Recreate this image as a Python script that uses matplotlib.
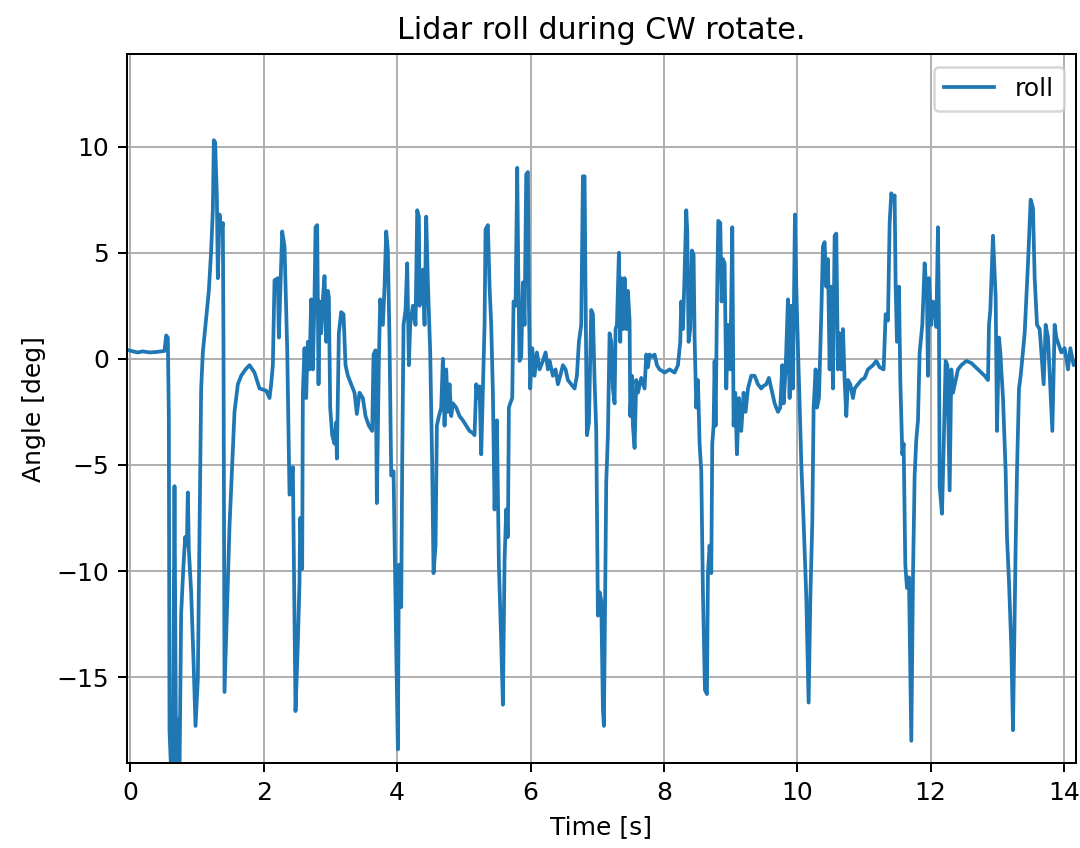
import matplotlib
matplotlib.use("Agg")
import matplotlib.pyplot as plt

# (time [s], roll [deg]), one list per stretch of the run
seg_start = [(-0.057, 0.43), (0.035, 0.35), (0.11, 0.3), (0.185, 0.35), (0.285, 0.3),
             (0.385, 0.32), (0.51, 0.37), (0.535, 1.1), (0.56, 1.0), (0.575, -2.7),
             (0.585, -17.5), (0.61, -19.5), (0.635, -19.5), (0.66, -6.0), (0.685, -19.5),
             (0.71, -17.0), (0.735, -19.5), (0.76, -12.0), (0.795, -9.7), (0.82, -8.4),
             (0.845, -8.8), (0.86, -6.3), (0.875, -9.0), (0.91, -11.0), (0.945, -14.2),
             (0.975, -17.3), (1.01, -15.1), (1.035, -8.2), (1.06, -1.4), (1.085, 0.3),
             (1.125, 1.6), (1.145, 2.2), (1.175, 3.2), (1.21, 5.1), (1.235, 7.0),
             (1.25, 10.3), (1.27, 10.2), (1.295, 7.7), (1.31, 3.8), (1.335, 6.8),
             (1.36, 6.0), (1.385, 6.4), (1.395, 0.5), (1.41, -15.7), (1.445, -12.0),
             (1.485, -7.9), (1.525, -5.0), (1.56, -2.5), (1.61, -1.2), (1.66, -0.8),
             (1.725, -0.5), (1.785, -0.3), (1.86, -0.65), (1.935, -1.4), (2.035, -1.5),
             (2.085, -1.85), (2.11, -1.2), (2.135, -0.3), (2.16, 3.7), (2.21, 3.8),
             (2.225, 1.0), (2.275, 6.0), (2.31, 5.3), (2.35, 0.5), (2.385, -6.4)]

seg_2_5 = [(2.435, -5.1), (2.475, -16.6), (2.51, -13.4), (2.535, -10.5), (2.545, -7.5),
           (2.575, -9.9), (2.585, -1.6), (2.61, 0.5), (2.635, -1.85), (2.65, -0.1),
           (2.66, 0.8), (2.685, -0.5), (2.71, 2.8), (2.735, -0.5), (2.76, 2.9),
           (2.775, 6.2), (2.8, 6.3), (2.82, -1.2), (2.835, 2.7), (2.86, 1.2),
           (2.885, 2.8), (2.91, 3.9), (2.935, 0.8), (2.96, 3.2), (2.975, 2.9),
           (2.995, -2.3), (3.025, -3.6), (3.06, -4.0), (3.085, -3.0), (3.095, -4.7),
           (3.125, 1.2), (3.16, 2.2), (3.195, 2.1), (3.225, -0.3), (3.26, -0.8),
           (3.31, -1.2), (3.36, -1.6), (3.395, -2.6), (3.435, -1.6), (3.485, -1.85),
           (3.525, -2.7), (3.575, -3.15), (3.625, -3.4), (3.645, 0.2), (3.675, 0.4),
           (3.695, -6.8), (3.725, -0.1), (3.745, 2.8), (3.785, 1.6), (3.81, 3.4),
           (3.835, 6.0), (3.86, 5.1), (3.885, 0.8), (3.91, -5.5), (3.945, -5.3),
           (3.985, -13.6), (4.01, -18.4), (4.025, -9.7), (4.06, -11.7), (4.075, -4.9),
           (4.095, 1.6), (4.125, 2.3), (4.15, 4.5), (4.175, -0.3), (4.195, 1.6),
           (4.235, 2.5), (4.275, 1.6), (4.3, 7.0), (4.325, 6.7), (4.335, 2.5),
           (4.36, 3.4), (4.385, 4.2), (4.41, 1.6), (4.435, 6.7), (4.46, 3.6),
           (4.495, 0.3), (4.525, -5.1), (4.545, -10.1), (4.575, -8.8), (4.595, -3.15),
           (4.625, -2.7), (4.66, -2.3), (4.685, 0.0)]

seg_5_7 = [(4.71, -3.15), (4.735, -0.5), (4.76, -2.5), (4.785, -1.2), (4.81, -2.7),
           (4.835, -2.1), (4.885, -2.3), (4.935, -2.7), (4.985, -2.9), (5.035, -3.15),
           (5.085, -3.4), (5.135, -3.5), (5.16, -3.6), (5.185, -1.2), (5.21, -1.85),
           (5.235, -1.3), (5.26, -4.5), (5.285, -1.4), (5.31, 1.6), (5.325, 6.1),
           (5.36, 6.3), (5.385, 3.4), (5.41, 1.6), (5.435, -1.6), (5.46, -7.1),
           (5.495, -2.9), (5.525, -9.7), (5.56, -13.4), (5.585, -16.3), (5.61, -9.5),
           (5.635, -7.1), (5.66, -8.4), (5.675, -2.3), (5.695, -2.1), (5.725, -1.85),
           (5.745, 2.7), (5.775, 2.5), (5.8, 9.0), (5.815, 4.2), (5.835, -0.1),
           (5.86, 0.1), (5.885, 3.6), (5.91, 1.6), (5.935, 8.7), (5.96, 8.8),
           (5.975, 2.7), (5.995, -1.4), (6.025, 0.5), (6.06, -0.8), (6.095, 0.3),
           (6.135, -0.5), (6.185, -0.1), (6.225, 0.3), (6.26, -0.5), (6.285, -0.1),
           (6.335, -0.8), (6.375, -0.5), (6.41, -1.2), (6.445, -0.8), (6.485, -0.3),
           (6.525, -0.5), (6.56, -1.0), (6.61, -1.2), (6.66, -1.4), (6.695, -0.8),
           (6.725, 0.8), (6.76, 1.6), (6.785, 8.6), (6.81, 8.6), (6.825, 2.9),
           (6.845, -3.6), (6.875, -3.0), (6.91, 2.3), (6.935, 2.1), (6.96, -1.0),
           (6.985, -3.4), (7.01, -12.1), (7.035, -11.0), (7.06, -11.4), (7.085, -16.5),
           (7.1, -17.3)]

seg_7_9 = [(7.12, -10.5), (7.135, -5.8), (7.16, -3.6), (7.185, 1.2), (7.21, 0.8),
           (7.235, -1.4), (7.26, -2.1), (7.275, 1.4), (7.295, 1.6), (7.325, 5.0),
           (7.345, 0.8), (7.36, 3.8), (7.385, 1.4), (7.41, 3.8), (7.435, 1.4),
           (7.46, 3.2), (7.485, 1.8), (7.495, -2.7), (7.52, -0.8), (7.535, -3.15),
           (7.56, -4.2), (7.585, -1.0), (7.61, -1.6), (7.66, -0.9), (7.71, -1.4),
           (7.735, 0.2), (7.76, -0.4), (7.785, 0.2), (7.825, 0.1), (7.86, 0.2),
           (7.895, -0.3), (7.935, -0.5), (8.01, -0.65), (8.085, -0.5), (8.16, -0.65),
           (8.21, -0.3), (8.245, 0.8), (8.26, 2.7), (8.285, 1.4), (8.31, 4.0),
           (8.335, 7.0), (8.35, 6.0), (8.37, 0.8), (8.395, 1.4), (8.42, 5.1),
           (8.445, 4.9), (8.46, 1.0), (8.485, -2.3), (8.51, -1.0), (8.535, -4.0),
           (8.56, -5.3), (8.585, -11.0), (8.615, -15.6), (8.645, -15.8), (8.66, -10.1),
           (8.685, -8.8), (8.71, -10.1), (8.725, -4.0), (8.745, -3.15), (8.76, -0.1),
           (8.775, -3.15), (8.795, 2.5), (8.815, 6.5), (8.845, 6.4), (8.865, 2.7),
           (8.885, 4.7), (8.91, 4.5), (8.935, -1.4), (8.96, 1.6), (8.995, -0.5),
           (9.025, 6.2), (9.045, -3.15), (9.07, -1.6), (9.095, -4.5), (9.125, -1.85),
           (9.16, -3.4), (9.195, -1.6), (9.225, -2.5), (9.26, -1.4), (9.31, -0.8),
           (9.36, -0.8), (9.41, -1.2), (9.46, -1.4)]

seg_9_12 = [(9.485, -1.3), (9.535, -1.2), (9.575, -0.9), (9.61, -1.4), (9.66, -2.1),
            (9.71, -2.5), (9.745, -2.3), (9.775, -0.3), (9.795, -2.1), (9.825, -0.5),
            (9.86, 2.8), (9.885, -1.85), (9.91, 2.5), (9.935, -1.4), (9.965, 6.8),
            (9.985, 3.4), (10.01, 0.5), (10.035, -2.1), (10.06, -4.9), (10.095, -7.7),
            (10.135, -11.2), (10.17, -16.2), (10.195, -11.4), (10.225, -7.7), (10.245, -2.3),
            (10.275, -0.5), (10.295, -2.3), (10.325, -1.85), (10.36, 2.1), (10.385, 5.3),
            (10.41, 5.5), (10.435, 3.4), (10.46, 4.7), (10.485, -0.5), (10.51, 3.4),
            (10.535, -1.4), (10.56, 5.8), (10.585, 5.9), (10.61, -0.5), (10.635, 1.2),
            (10.66, -0.5), (10.685, 1.4), (10.71, -1.0), (10.735, -2.7), (10.76, -1.0),
            (10.795, -1.2), (10.835, -1.85), (10.86, -1.4), (10.91, -1.2), (10.96, -1.0),
            (11.01, -0.9), (11.06, -0.5), (11.135, -0.3), (11.185, -0.1), (11.235, -0.4),
            (11.295, -0.5), (11.325, 2.1), (11.36, 1.8), (11.385, 6.4), (11.41, 7.8),
            (11.435, 7.5), (11.46, 7.7), (11.475, 3.4), (11.495, 0.8), (11.525, 3.4),
            (11.545, -1.0), (11.575, -4.5), (11.595, -4.0), (11.62, -9.7), (11.645, -10.8),
            (11.675, -10.3), (11.71, -18.0), (11.735, -10.3), (11.76, -5.5), (11.785, -3.8),
            (11.81, -2.9), (11.835, 0.3)]

seg_end = [(11.875, 1.6), (11.91, 4.5), (11.945, 2.9), (11.96, -0.8), (11.975, 3.8),
           (12.01, 1.6), (12.035, 2.7), (12.06, 2.5), (12.085, 1.5), (12.11, 6.2),
           (12.125, 1.6), (12.135, -6.0), (12.17, -7.3), (12.195, -4.2), (12.225, -0.1),
           (12.25, -0.3), (12.285, -6.2), (12.31, -0.5), (12.335, -1.6), (12.375, -1.0),
           (12.41, -0.5), (12.46, -0.3), (12.535, -0.1), (12.61, -0.2), (12.71, -0.5),
           (12.81, -0.8), (12.86, -1.0), (12.875, 1.6), (12.895, 2.3), (12.935, 5.8),
           (12.975, 2.9), (12.995, -3.4), (13.025, 1.0), (13.045, 0.3), (13.085, -1.85),
           (13.125, -5.3), (13.145, -8.4), (13.175, -10.5), (13.21, -13.6), (13.235, -17.5),
           (13.275, -8.8), (13.295, -5.3), (13.325, -1.4), (13.35, -0.8), (13.41, 1.2),
           (13.46, 4.5), (13.5, 7.5), (13.535, 7.1), (13.56, 3.8), (13.595, 1.6),
           (13.635, 1.4), (13.66, 0.3), (13.695, -1.2), (13.725, 1.6), (13.76, 1.0),
           (13.825, -3.4), (13.86, 1.6), (13.885, 1.0), (13.96, 0.3), (14.01, 0.5),
           (14.06, -0.5), (14.095, 0.5), (14.145, -0.3), (14.185, -0.1)]

samples = seg_start + seg_2_5 + seg_5_7 + seg_7_9 + seg_9_12 + seg_end
time = [s[0] for s in samples]
roll = [s[1] for s in samples]

fig = plt.figure(figsize=(1080 / 180, 848 / 180), dpi=180)
ax = fig.add_axes([0.1173, 0.0999, 0.879, 0.8361])

ax.plot(time, roll, label='roll')
ax.set_xlim(-0.057, 14.18)
ax.set_ylim(-19.06, 14.35)
ax.set_title('Lidar roll during CW rotate.')
ax.set_xlabel('Time [s]')
ax.set_ylabel('Angle [deg]')
ax.grid(True)
ax.legend(loc='upper right')

fig.savefig('out.png', dpi=180)
